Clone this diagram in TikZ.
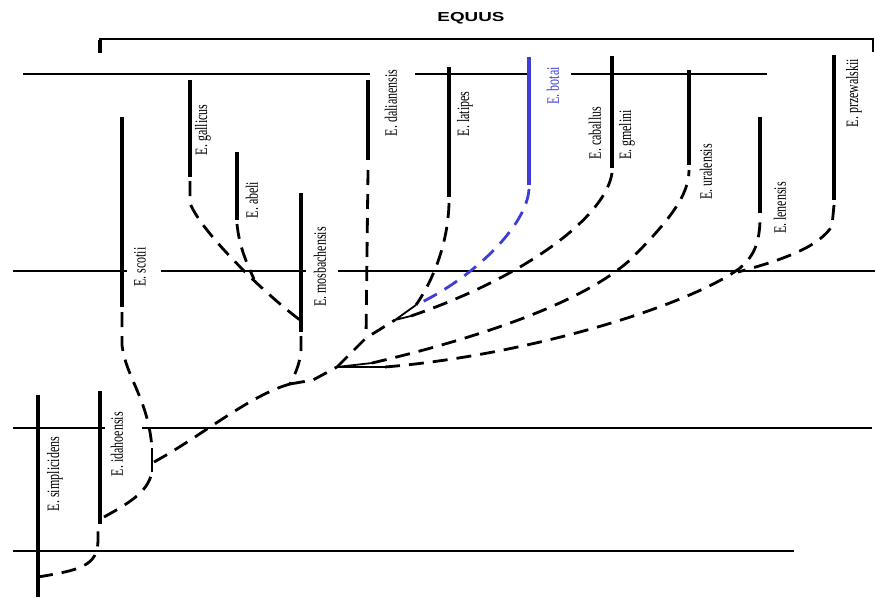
\documentclass[tikz,border=0pt]{standalone}
\usepackage{fontspec}
\usepackage{graphicx}
\setmainfont{Liberation Serif}
\newfontfamily\headfont{Liberation Sans}
\definecolor{botaiblue}{RGB}{62,62,215}
\newcommand{\tallname}[1]{\scalebox{1}[1.45]{#1}}

\begin{document}
\begin{tikzpicture}[x=1pt, y=-1pt,
        timeline/.style={line width=1.6pt},
        taxon/.style={line width=3.2pt},
        lineage/.style={line width=2.8pt, dash pattern=on 15pt off 9pt},
        joint/.style={line width=1.8pt},
        taxlabel/.style={rotate=90, inner sep=0pt, font=\fontsize{12}{12}\selectfont}]
        \useasboundingbox (0,0) rectangle (875,597);
        % time horizons
        \draw[timeline] (23,74) -- (370,74) (415,74) -- (528,74) (571,74) -- (767,74);
        \draw[timeline] (13,271) -- (127,271) (161,271) -- (306,271) (338,271) -- (875,271);
        \draw[timeline] (13,428) -- (105,428) (142,428) -- (872,428);
        \draw[timeline] (13,551) -- (794,551);
        % genus bracket
        \draw[line width=2.8pt] (100,52) -- (100,39) -- (873,39) -- (873,52);
        \draw[line width=4.2pt] (100,40) -- (100,53);
        \node[font=\headfont\bfseries\fontsize{13}{13}\selectfont] (genus) at (471,18) {\scalebox{1.45}[1]{EQUUS}};
        % species ranges
        \foreach \x/\ytop/\ybot in {38/395/597, 100/391/524, 122/117/307, 190/80/177, 237/152/220,
                301/193/332, 368/80/160, 449/67/197, 612/56/168, 689/70/165, 760/117/213, 834/55/200}
                \draw[taxon] (\x,\ytop) -- (\x,\ybot);
        \draw[taxon, botaiblue] (529,57) -- (529,185);
        \draw[line width=2.6pt] (152,448) -- (152,472);
        % branch points
        \coordinate (j1top) at (152,448);
        \coordinate (j1) at (154,462);
        \coordinate (j2) at (290,384);
        \coordinate (fork) at (337,367);
        \coordinate (j3) at (366,338);
        \coordinate (j4) at (395,320);
        \coordinate (j5) at (416,305);
        \coordinate (cabroot) at (411,316);
        \coordinate (uralroot) at (372,363);
        \coordinate (lenroot) at (385,367);
        % lineages
        \draw[lineage] (38,577) .. controls (80,570) and (98,566) .. (98,540) -- (98,526);
        \draw[lineage] (104,517) .. controls (135,500) and (148,490) .. (152,472);
        \draw[lineage] (122,312) -- (122,345) .. controls (126,378) and (148,398) .. (j1top);
        \draw[lineage] (j1) .. controls (200,437) and (250,395) .. (j2);
        \draw[lineage] (301,336) -- (301,350) .. controls (300,365) and (294,376) .. (j2);
        \draw[lineage] (190,181) -- (190,203) .. controls (200,230) and (260,290) .. (300,320);
        \draw[lineage] (237,224) .. controls (239,245) and (246,262) .. (254,279);
        \draw[lineage] (j2) -- (313,380) -- (fork);
        \draw[lineage] (fork) -- (j3) -- (j4);
        \draw[lineage] (368,170) -- (j3);
        \draw[joint] (fork) -- (lenroot) (fork) -- (uralroot);
        \draw[joint] (j4) -- (j5) (j4) -- (cabroot);
        \draw[lineage] (449,203) .. controls (448,245) and (432,282) .. (j5);
        \draw[lineage, botaiblue] (529,189) .. controls (527,225) and (475,277) .. (j5);
        \draw[lineage] (612,173) .. controls (606,215) and (530,275) .. (cabroot);
        \draw[lineage] (uralroot) .. controls (470,340) and (580,305) .. (630,260)
                .. controls (670,220) and (689,195) .. (689,170);
        \draw[lineage] (lenroot) .. controls (530,355) and (690,305) .. (740,268)
                .. controls (752,258) and (760,245) .. (760,218);
        \draw[lineage] (834,205) -- (832,226) .. controls (820,245) and (790,258) .. (738,272);
        % species names
        \foreach \name/\x/\y/\txt in {simplicidens/55/474/E. simplicidens, idahoensis/117/444/E. idahoensis,
                scotii/140/267/E. scotii, gallicus/203/130/E. gallicus, abeli/252/200/E. abeli,
                mosbachensis/320/267/E. mosbachensis, dalianensis/391/103/E. dalianensis,
                latipes/465/114/E. latipes, caballus/595/133/E. caballus, gmelini/627/135/E. gmelini,
                uralensis/706/172/E. uralensis, lenensis/780/208/E. lenensis, przewalskii/854/93/E. przewalskii}
                \node[taxlabel] (\name) at (\x,\y) {\tallname{\txt}};
        \node[taxlabel, text=botaiblue] (botai) at (553,86) {\tallname{E. botai}};
\end{tikzpicture}
\end{document}
